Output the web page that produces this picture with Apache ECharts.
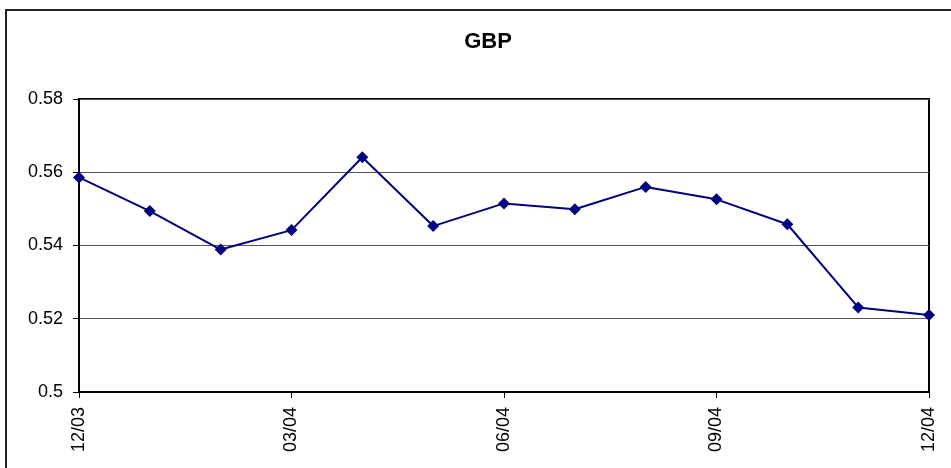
<!DOCTYPE html>
<html>
<head>
<meta charset="utf-8">
<script src="https://cdn.jsdelivr.net/npm/echarts@6/dist/echarts.min.js"></script>
<style>
  html, body { margin: 0; padding: 0; background: #fff; overflow: hidden; }
  #frame { position: absolute; left: 5px; top: 9px; width: 1000px; height: 520px;
           border: 2px solid #222; box-sizing: border-box; }
  #chart { position: absolute; left: 0; top: 0; width: 951px; height: 468px; }
</style>
</head>
<body>
<div id="frame"></div>
<div id="chart"></div>
<script>
// Monthly GBP rate, Dec 2003 – Dec 2004
const months = ['12/03', '01/04', '02/04', '03/04', '04/04', '05/04', '06/04',
                '07/04', '08/04', '09/04', '10/04', '11/04', '12/04'];
const gbpRate = [0.5586, 0.5494, 0.5389, 0.5442, 0.5641, 0.5453, 0.5515,
                 0.5499, 0.5560, 0.5526, 0.5458, 0.5231, 0.5210];
const yTicks = [0.5, 0.52, 0.54, 0.56, 0.58];

const chart = echarts.init(document.getElementById('chart'), null, { renderer: 'canvas' });
chart.setOption({
  animation: false,
  backgroundColor: 'transparent',
  title: {
    text: 'GBP',
    left: 483,
    textAlign: 'center',
    top: 26,
    textStyle: { fontFamily: 'Liberation Sans, Arial, sans-serif', fontSize: 22, fontWeight: 'bold', color: '#000' }
  },
  grid: {
    left: 79, right: 22, top: 99, bottom: 76,
    show: true, borderColor: '#000', borderWidth: 2, backgroundColor: '#fff'
  },
  xAxis: {
    type: 'category',
    data: months,
    boundaryGap: false,
    axisLine: { lineStyle: { color: '#000', width: 2 } },
    axisTick: { show: true, interval: 2, length: 6, lineStyle: { color: '#000', width: 1 } },
    axisLabel: {
      interval: 2, rotate: 90, margin: 15,
      fontFamily: 'Liberation Sans, Arial, sans-serif', fontSize: 18, color: '#000'
    },
    splitLine: { show: false }
  },
  yAxis: {
    type: 'value',
    min: yTicks[0], max: yTicks[yTicks.length - 1], interval: 0.02,
    axisLine: { show: true, lineStyle: { color: '#000', width: 2 } },
    axisTick: { show: true, length: 6, lineStyle: { color: '#000', width: 1 } },
    axisLabel: {
      margin: 16,
      fontFamily: 'Liberation Sans, Arial, sans-serif', fontSize: 18, color: '#000',
      formatter: v => String(+v.toFixed(2))
    },
    splitLine: { show: true, lineStyle: { color: '#555', width: 1 } }
  },
  series: [{
    type: 'line',
    data: gbpRate,
    symbol: 'diamond',
    symbolSize: 12,
    showAllSymbol: true,
    lineStyle: { color: '#000080', width: 2 },
    itemStyle: { color: '#000080' }
  }]
});
</script>
</body>
</html>
